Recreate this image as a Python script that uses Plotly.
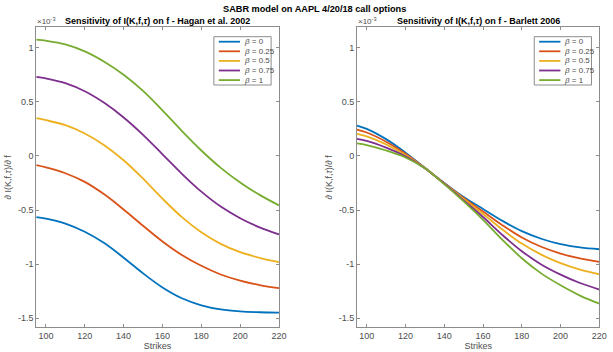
import plotly.graph_objects as go

# ---------------- data (values in units of 1e-3) ----------------
strikes = [95, 100, 110, 120, 130, 140, 150, 160, 170, 180, 190, 200, 210, 220]
beta_labels = ["0", "0.25", "0.5", "0.75", "1"]

hagan_b0 = [-0.565, -0.58, -0.625, -0.70, -0.805, -0.94, -1.085, -1.215, -1.315, -1.38, -1.418, -1.436, -1.444, -1.448]
hagan_b025 = [-0.086, -0.106, -0.16, -0.24, -0.355, -0.495, -0.645, -0.79, -0.915, -1.015, -1.095, -1.152, -1.193, -1.222]
hagan_b05 = [0.349, 0.33, 0.284, 0.207, 0.099, -0.04, -0.21, -0.395, -0.565, -0.704, -0.812, -0.889, -0.941, -0.981]
hagan_b075 = [0.731, 0.716, 0.672, 0.597, 0.49, 0.355, 0.195, 0.015, -0.165, -0.33, -0.468, -0.575, -0.66, -0.725]
hagan_b1 = [1.074, 1.064, 1.03, 0.965, 0.87, 0.75, 0.60, 0.42, 0.23, 0.05, -0.11, -0.245, -0.36, -0.457]

bart_b0 = [0.28, 0.25, 0.155, 0.03, -0.11, -0.25, -0.38, -0.49, -0.60, -0.695, -0.765, -0.815, -0.845, -0.862]
bart_b025 = [0.242, 0.216, 0.131, 0.02, -0.111, -0.252, -0.389, -0.513, -0.64, -0.753, -0.839, -0.902, -0.947, -0.978]
bart_b05 = [0.204, 0.181, 0.107, 0.009, -0.112, -0.255, -0.398, -0.536, -0.68, -0.81, -0.912, -0.99, -1.05, -1.093]
bart_b075 = [0.158, 0.139, 0.077, -0.003, -0.114, -0.257, -0.41, -0.564, -0.73, -0.88, -1.002, -1.096, -1.174, -1.234]
bart_b1 = [0.115, 0.10, 0.05, -0.015, -0.115, -0.26, -0.42, -0.59, -0.775, -0.945, -1.085, -1.195, -1.29, -1.365]

x_ticks = [100, 120, 140, 160, 180, 200, 220]
x_ticklabels = ["100", "120", "140", "160", "180", "200", "220"]
y_ticks = [-1.5, -1, -0.5, 0, 0.5, 1]
y_ticklabels = ["-1.5", "-1", "-0.5", "0", "0.5", "1"]

colors = ["#0072BD", "#D95319", "#EDB120", "#7E2F8E", "#77AC30"]
hagan = [hagan_b0, hagan_b025, hagan_b05, hagan_b075, hagan_b1]
bart = [bart_b0, bart_b025, bart_b05, bart_b075, bart_b1]

W, H = 613, 352
FONT = "Liberation Sans, Arial, sans-serif"
AX_COL = "#8c8c8c"
TXT_COL = "#4d4d4d"

fig = go.Figure()
for i in range(5):
    fig.add_trace(go.Scatter(x=strikes, y=hagan[i], mode="lines", line=dict(color=colors[i], width=1.8, shape="spline", smoothing=1.0),
                             xaxis="x", yaxis="y", showlegend=False))
    fig.add_trace(go.Scatter(x=strikes, y=bart[i], mode="lines", line=dict(color=colors[i], width=1.8, shape="spline", smoothing=1.0),
                             xaxis="x2", yaxis="y2", showlegend=False))

# axes domains (pixels -> paper fraction)
L1, R1 = 36.7, 282.7
L2, R2 = 361.7, 607.3
TOP, BOT = 27.3, 327.3
dom_y = [(H - BOT) / H, (H - TOP) / H]

xrange_ = [95, 220]
yrange_ = [-1.583, 1.188]
ylabel = "<i>∂</i> I(K,f,<i>τ</i>)/<i>∂</i> f"

def xax(dom, anchor):
    return dict(domain=dom, range=xrange_, anchor=anchor, tickvals=x_ticks, ticktext=x_ticklabels,
                ticks="inside", ticklen=3, tickcolor=AX_COL, showline=True, linecolor=AX_COL, linewidth=1,
                mirror="ticks", showgrid=False, zeroline=False, tickfont=dict(size=9, color=TXT_COL, family=FONT),
                title=dict(text="Strikes", standoff=2, font=dict(size=9, color=TXT_COL, family=FONT)))

def yax(anchor):
    return dict(domain=dom_y, range=yrange_, anchor=anchor, tickvals=y_ticks, ticktext=y_ticklabels,
                ticks="inside", ticklen=3, tickcolor=AX_COL, showline=True, linecolor=AX_COL, linewidth=1,
                mirror="ticks", showgrid=False, zeroline=False, tickfont=dict(size=9, color=TXT_COL, family=FONT),
                title=dict(text=ylabel, standoff=4, font=dict(size=9, color=TXT_COL, family=FONT)))

fig.update_layout(
    width=W, height=H, autosize=False,
    margin=dict(l=0, r=0, t=0, b=0),
    paper_bgcolor="white", plot_bgcolor="white",
    font=dict(family=FONT),
    xaxis=xax([L1 / W, R1 / W], "y"),
    yaxis=yax("x"),
    xaxis2=xax([L2 / W, R2 / W], "y2"),
    yaxis2=yax("x2"),
)

ann = []
shapes = []

def px_x(p):
    return p / W

def px_y(p):
    return (H - p) / H

# suptitle
ann.append(dict(text="<b>SABR model on AAPL 4/20/18 call options</b>", x=px_x(319), y=px_y(9), xref="paper", yref="paper",
                showarrow=False, font=dict(size=9.2, color="black", family=FONT), xanchor="center", yanchor="middle"))
titles = ["<b>Sensitivity of I(K,f,<i>τ</i>) on f - Hagan et al. 2002</b>",
          "<b>Sensitivity of I(K,f,<i>τ</i>) on f - Barlett 2006</b>"]
for (L, R), t in zip([(L1, R1), (L2, R2)], titles):
    cx = (L + R) / 2
    ann.append(dict(text=t, x=px_x(cx), y=px_y(21), xref="paper", yref="paper", showarrow=False,
                    font=dict(size=9, color="black", family=FONT), xanchor="center", yanchor="middle"))
    ann.append(dict(text="×10<sup>-3</sup>", x=px_x(L - 1), y=px_y(21), xref="paper", yref="paper", showarrow=False,
                    font=dict(size=8, color=TXT_COL, family=FONT), xanchor="left", yanchor="middle"))
    # custom legend
    lx0, lx1 = R - 66, R - 8
    ly0, ly1 = 36.7, 85
    shapes.append(dict(type="rect", xref="paper", yref="paper", x0=px_x(lx0), x1=px_x(lx1), y0=px_y(ly1), y1=px_y(ly0),
                       line=dict(color=AX_COL, width=1), fillcolor="white", layer="above"))
    for i in range(5):
        yy = 41.7 + i * 9.6
        shapes.append(dict(type="line", xref="paper", yref="paper", x0=px_x(lx0 + 5), x1=px_x(lx0 + 26.5),
                           y0=px_y(yy), y1=px_y(yy), line=dict(color=colors[i], width=1.8), layer="above"))
        ann.append(dict(text="<i>β</i> = " + beta_labels[i], x=px_x(lx0 + 28.5), y=px_y(yy), xref="paper", yref="paper",
                        showarrow=False, font=dict(size=8, color=TXT_COL, family=FONT), xanchor="left", yanchor="middle"))

fig.update_layout(annotations=ann, shapes=shapes)
fig.write_html("out.html")
